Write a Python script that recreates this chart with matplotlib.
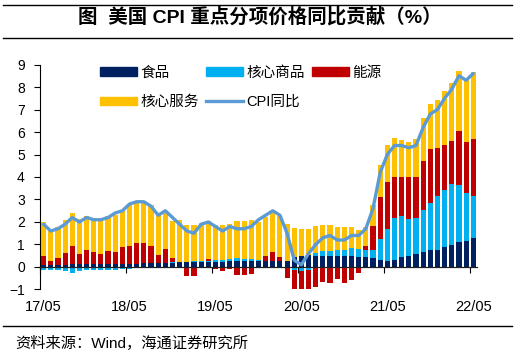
import matplotlib
matplotlib.use("Agg")
import matplotlib.pyplot as plt
from matplotlib.lines import Line2D
from matplotlib.patches import Patch
import numpy as np

plt.rcParams['font.family'] = ['Liberation Sans', 'Noto Sans CJK SC']

# 数据：2017/05 - 2022/05，逐月
tick_labels = ['17/05', '18/05', '19/05', '20/05', '21/05', '22/05']

food = [0.10, 0.10, 0.10, 0.10, 0.12, 0.12, 0.12, 0.12, 0.13, 0.13, 0.13, 0.15,
        0.15, 0.15, 0.16, 0.17, 0.17, 0.17, 0.18, 0.20, 0.20, 0.20, 0.22, 0.22,
        0.23, 0.24, 0.25, 0.25, 0.25, 0.25, 0.25, 0.25, 0.25, 0.25, 0.27, 0.45,
        0.50, 0.52, 0.50, 0.50, 0.50, 0.50, 0.47, 0.47, 0.45, 0.44, 0.40, 0.30,
        0.25, 0.30, 0.43, 0.47, 0.58, 0.68, 0.77, 0.77, 0.87, 0.99, 1.11, 1.17,
        1.29]
goods = [-0.15, -0.15, -0.15, -0.17, -0.25, -0.20, -0.15, -0.15, -0.15, -0.12, -0.12, -0.10,
         -0.07, -0.05, -0.03, -0.02, -0.02, 0.02, 0.02, 0.03, 0.03, 0.05, 0.05, 0.06,
         0.07, 0.08, 0.10, 0.14, 0.12, 0.10, 0.05, 0.03, 0.03, 0.02, -0.02, -0.15,
         -0.20, -0.12, 0.10, 0.20, 0.20, 0.27, 0.30, 0.36, 0.36, 0.30, 0.37, 0.96,
         1.44, 1.88, 1.85, 1.66, 1.61, 1.85, 2.07, 2.37, 2.57, 2.71, 2.55, 2.12,
         1.85]
energy = [0.37, 0.18, 0.29, 0.54, 0.80, 0.47, 0.62, 0.55, 0.44, 0.60, 0.55, 0.75,
          0.80, 0.92, 0.91, 0.75, 0.38, 0.61, 0.21, 0.00, -0.40, -0.40, -0.05, 0.08,
          -0.08, -0.20, -0.10, -0.35, -0.35, -0.30, -0.05, 0.20, 0.38, 0.16, -0.45, -0.85,
          -0.90, -0.95, -0.90, -0.65, -0.70, -0.55, -0.71, -0.56, -0.27, 0.18, 1.04, 1.84,
          2.07, 1.81, 1.73, 1.86, 1.82, 2.20, 2.42, 2.15, 2.00, 1.89, 2.40, 2.25,
          2.55]
services = [1.52, 1.38, 1.37, 1.43, 1.49, 1.56, 1.54, 1.52, 1.58, 1.52, 1.65, 1.60,
            1.82, 1.80, 1.85, 1.85, 1.78, 1.62, 1.64, 1.87, 1.65, 1.63, 1.68, 1.67,
            1.55, 1.56, 1.58, 1.67, 1.69, 1.72, 1.70, 1.74, 1.74, 1.82, 1.66, 1.28,
            1.19, 1.17, 1.20, 1.15, 1.15, 0.99, 1.01, 0.95, 0.82, 0.86, 0.96, 1.45,
            1.68, 1.74, 1.65, 1.57, 1.68, 1.89, 2.00, 2.15, 2.37, 2.59, 2.67, 2.86,
            2.98]
cpi = [1.9, 1.6, 1.7, 1.9, 2.2, 2.0, 2.2, 2.1, 2.1, 2.2, 2.4, 2.5,
       2.8, 2.9, 2.9, 2.7, 2.3, 2.5, 2.2, 1.9, 1.6, 1.5, 1.9, 2.0,
       1.8, 1.6, 1.8, 1.7, 1.7, 1.8, 2.1, 2.3, 2.5, 2.3, 1.5, 0.3,
       0.1, 0.6, 1.0, 1.3, 1.4, 1.2, 1.2, 1.4, 1.4, 1.7, 2.6, 4.2,
       5.0, 5.4, 5.4, 5.3, 5.4, 6.2, 6.8, 7.0, 7.5, 7.9, 8.5, 8.3,
       8.6]

names = ['食品', '核心商品', '能源', '核心服务']
colors = ['#002060', '#00B0F0', '#C00000', '#FFC000']
line_color = '#5B9BD5'

x = np.arange(len(cpi))

fig = plt.figure(figsize=(5.2, 3.62), dpi=100)
ax = fig.add_axes([0.077, 0.2003, 0.84, 0.6215])

# 堆叠柱，正负分开累加
pos = np.zeros(len(x))
neg = np.zeros(len(x))
for vals, c in zip([food, goods, energy, services], colors):
    v = np.array(vals)
    bottom = np.where(v >= 0, pos, neg)
    ax.bar(x, v, bottom=bottom, width=0.72, color=c, linewidth=0)
    pos = pos + np.where(v >= 0, v, 0)
    neg = neg + np.where(v < 0, v, 0)

ax.plot(x, cpi, color=line_color, lw=2.4, solid_capstyle='round')

ax.set_xlim(-0.5, 60.5)
ax.set_ylim(-1, 9)
ax.set_yticks(range(-1, 10))
ax.tick_params(axis='y', length=4, width=0.8, labelsize=10, pad=7, colors='black')

for s in ['top', 'right']:
    ax.spines[s].set_visible(False)
ax.spines['left'].set_linewidth(0.8)
ax.spines['bottom'].set_position(('data', 0))
ax.spines['bottom'].set_linewidth(0.9)
ax.spines['bottom'].set_color('#202020')

ax.set_xticks(np.arange(-0.5, 61, 12))
ax.set_xticklabels([])
ax.tick_params(axis='x', length=4, width=0.8, direction='out')

for k, lab in enumerate(tick_labels):
    ax.text(k * 12, -0.078, lab, transform=ax.get_xaxis_transform(),
            ha='center', va='center', fontsize=10.5)

handles = [Patch(color=colors[0]), Patch(color=colors[3]),
           Patch(color=colors[1]), Line2D([], [], color=line_color, lw=2.4),
           Patch(color=colors[2])]
labels = [names[0], names[3], names[1], 'CPI同比', names[2]]
ax.legend(handles, labels, ncol=3, frameon=False, fontsize=10.5,
          loc='upper left', bbox_to_anchor=(0.125, 1.02),
          handlelength=2.5, handleheight=0.55, handletextpad=0.25,
          columnspacing=0.5, labelspacing=1.05, borderaxespad=0)

# 标题与来源
fig.text(0.5, 1 - 17 / 362, '图  美国 CPI 重点分项价格同比贡献（%）', ha='center', va='center',
         fontsize=14, fontweight='bold')
for yy in [4.5, 38, 326]:
    fig.lines.append(Line2D([0.006, 0.985], [1 - yy / 362, 1 - yy / 362], color='black', lw=1,
                            transform=fig.transFigure))
fig.text(15 / 520, 1 - 343 / 362, '资料来源：Wind，海通证券研究所', ha='left', va='center',
         fontsize=11)

fig.savefig('out.png', dpi=100)
